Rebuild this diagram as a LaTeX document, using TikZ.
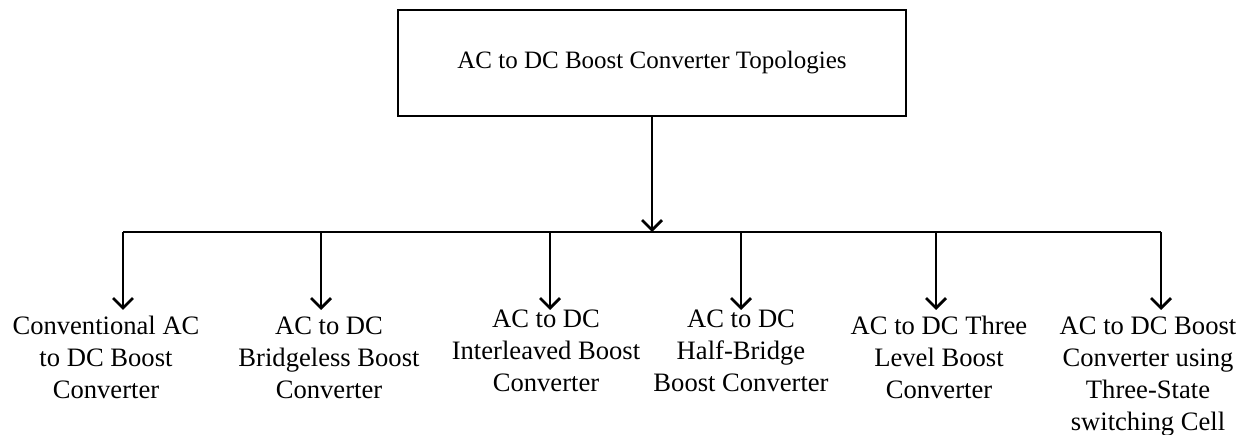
\documentclass[tikz,border=0pt]{standalone}
\usepackage{fontspec}
\setmainfont{Liberation Serif}
\usetikzlibrary{arrows.meta}
\begin{document}
\begin{tikzpicture}[x=1pt,y=-1pt,
  line width=2.8pt,
  every node/.style={font=\fontsize{26.6}{32}\selectfont},
  topbox/.style={draw,rectangle,minimum width=508pt,minimum height=106pt,inner sep=0pt,font=\fontsize{25}{30}\selectfont},
  leaf/.style={anchor=north,align=center,inner sep=0pt},
  arr/.style={-{Straight Barb[length=10pt,width=20pt,line width=2.8pt]}}]
\useasboundingbox (0,0) rectangle (1248,435);
\node[topbox] (top) at (652,63) {AC to DC Boost Converter Topologies};
\coordinate (hub) at (652,232);
\coordinate (b1) at (123,232);
\coordinate (b2) at (321,232);
\coordinate (b3) at (550,232);
\coordinate (b4) at (741,232);
\coordinate (b5) at (936,232);
\coordinate (b6) at (1161,232);
\coordinate (t1) at (123,310);
\coordinate (t2) at (321,310);
\coordinate (t3) at (550,310);
\coordinate (t4) at (741,310);
\coordinate (t5) at (936,310);
\coordinate (t6) at (1161,310);
\node[leaf] (c1) at (106,315) {Conventional AC\\to DC Boost\\Converter};
\node[leaf] (c2) at (329,315) {AC to DC\\Bridgeless Boost\\Converter};
\node[leaf] (c3) at (546,308) {AC to DC\\Interleaved Boost\\Converter};
\node[leaf] (c4) at (741,308) {AC to DC\\Half-Bridge\\Boost Converter};
\node[leaf] (c5) at (939,315) {AC to DC Three\\Level Boost\\Converter};
\node[leaf] (c6) at (1148,315) {AC to DC Boost\\Converter using\\Three-State\\switching Cell};
\draw[arr] (top.south) -- (hub);
\draw (b1) -- (b6);
\foreach \i in {1,...,6} {\draw[arr] (b\i) -- (t\i);}
\end{tikzpicture}
\end{document}
